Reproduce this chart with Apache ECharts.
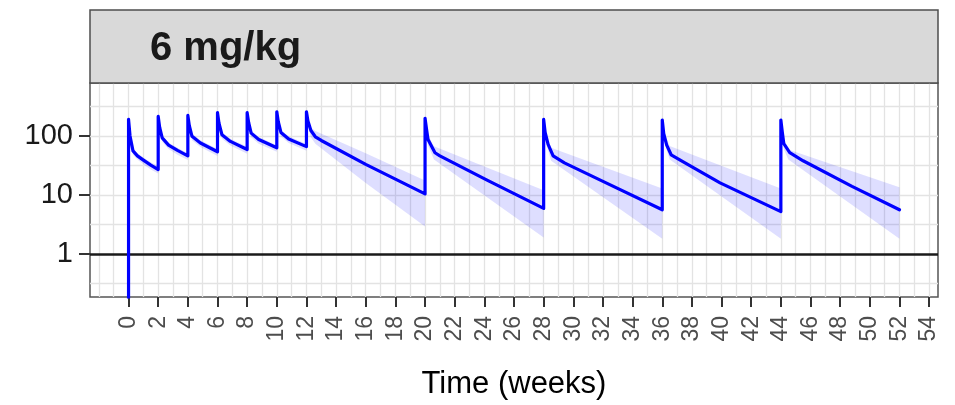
<!DOCTYPE html>
<html>
<head>
<meta charset="utf-8">
<script src="https://cdn.jsdelivr.net/npm/echarts@6/dist/echarts.min.js"></script>
<style>
  html, body { margin: 0; padding: 0; background: #fff; }
  #chart { width: 955px; height: 405px; }
</style>
</head>
<body>
<div id="chart"></div>
<script>
// Median concentration profile (dosing at weeks 0-12 every 2 weeks, then every 8 weeks)
const medianWeeks = [
  0, 0, 0.1, 0.3, 0.6, 1.0, 1.5, 2.0,
  2.0, 2.1, 2.27, 2.7, 3.3, 4.0,
  4.0, 4.1, 4.28, 4.85, 6.0,
  6.0, 6.1, 6.3, 6.87, 8.0,
  8.0, 8.1, 8.27, 8.78, 10.0,
  10.0, 10.1, 10.28, 10.8, 12.0,
  12.0, 12.1, 12.3, 12.6, 13.0, 16.0, 20.0,
  20.0, 20.1, 20.2, 20.67, 21.0, 24.15, 28.0,
  28.0, 28.1, 28.3, 28.64, 29.4, 32.0, 36.0,
  36.0, 36.1, 36.3, 36.6, 37.3, 39.9, 44.0,
  44.0, 44.1, 44.2, 44.6, 45.5, 48.8, 52.0
];
const medianConc = [
  0.01, 192, 100, 56, 46, 39, 32, 27,
  215, 140, 93, 70, 57, 46,
  224, 150, 99, 76, 54,
  249, 165, 105, 81, 59,
  249, 170, 112, 87, 63,
  258, 175, 115, 89, 66,
  258, 180, 124, 97, 84, 33, 10.4,
  200, 130, 87, 52, 46, 18, 5.9,
  192, 115, 72, 46, 35, 17, 5.6,
  187, 110, 70, 48, 38, 16, 5.2,
  187, 115, 74, 52, 38, 14, 5.6
];

// Prediction interval (lower / upper bounds)
const bandWeeks = [
  0, 0.1, 0.3, 0.6, 1.0, 1.5, 2.0,
  2.0, 2.1, 2.27, 2.7, 3.3, 4.0,
  4.0, 4.1, 4.28, 4.85, 6.0,
  6.0, 6.1, 6.3, 6.87, 8.0,
  8.0, 8.1, 8.27, 8.78, 10.0,
  10.0, 10.1, 10.28, 10.8, 12.0,
  12.0, 12.1, 12.3, 12.6, 16.0, 20.0,
  20.0, 20.1, 20.2, 20.6, 28.0,
  28.0, 28.1, 28.3, 28.5, 36.0,
  36.0, 36.1, 36.3, 36.5, 44.0,
  44.0, 44.1, 44.2, 44.5, 52.0
];
const bandLow = [
  165, 88, 48, 40, 33, 27, 23,
  185, 120, 80, 60, 48, 39,
  192, 128, 85, 65, 46,
  213, 140, 90, 69, 50,
  213, 145, 95, 74, 54,
  220, 150, 98, 76, 56,
  220, 150, 95, 74, 16, 2.9,
  170, 105, 70, 40, 1.9,
  160, 95, 58, 38, 1.8,
  158, 92, 58, 40, 1.8,
  158, 95, 60, 40, 1.8
];
const bandHigh = [
  215, 115, 62, 51, 43, 36, 31,
  240, 155, 102, 77, 63, 51,
  250, 168, 110, 85, 60,
  275, 183, 116, 90, 66,
  275, 188, 124, 96, 70,
  285, 194, 127, 99, 73,
  290, 200, 140, 122, 51, 17.6,
  225, 155, 105, 67, 12,
  215, 135, 90, 63, 12.8,
  215, 130, 90, 68, 12.8,
  215, 135, 90, 59, 13.5
];

const xTicks = [0, 2, 4, 6, 8, 10, 12, 14, 16, 18, 20, 22, 24, 26, 28, 30, 32, 34, 36, 38, 40, 42, 44, 46, 48, 50, 52, 54];
const xGridWeeks = [-2, -1, 0, 1, 2, 3, 4, 5, 6, 7, 8, 9, 10, 11, 12, 13, 14, 15, 16, 17, 18, 19, 20, 21, 22, 23, 24, 25, 26, 27,
  28, 29, 30, 31, 32, 33, 34, 35, 36, 37, 38, 39, 40, 41, 42, 43, 44, 45, 46, 47, 48, 49, 50, 51, 52, 53, 54];
const yTicks = [1, 10, 100];
const yGridValues = [0.316, 3.16, 10, 31.6, 100, 316];
const referenceLevel = 1;

const panelTitle = '6 mg/kg';
const xTitle = 'Time (weeks)';

const FONT = '"Liberation Sans", Arial, Helvetica, sans-serif';

const chart = echarts.init(document.getElementById('chart'), null, { renderer: 'canvas' });

const medianData = medianWeeks.map((w, i) => [w, medianConc[i]]);
const bandData = bandWeeks.map((w, i) => [w, bandLow[i], bandHigh[i]]);

chart.setOption({
  animation: false,
  backgroundColor: '#ffffff',
  grid: {
    left: 90, right: 17, top: 83, bottom: 103,
    show: true, borderColor: '#555555', borderWidth: 1.5, backgroundColor: 'transparent'
  },
  graphic: [
    {
      type: 'rect', z: 10,
      shape: { x: 90, y: 10, width: 848, height: 73 },
      style: { fill: '#d9d9d9', stroke: '#4d4d4d', lineWidth: 1.5 }
    },
    {
      type: 'text', z: 11, x: 150, y: 49,
      style: { text: panelTitle, font: 'bold 40px ' + FONT, fill: '#1a1a1a', verticalAlign: 'middle' }
    }
  ],
  xAxis: {
    type: 'value', min: -2.6, max: 54.6,
    axisLine: { show: false, onZero: false },
    splitLine: { show: false },
    axisTick: { show: true, customValues: xTicks, length: 10, lineStyle: { color: '#333333', width: 2 } },
    axisLabel: {
      customValues: xTicks, rotate: 90, margin: 19,
      fontFamily: FONT, fontSize: 23, color: '#4d4d4d'
    },
    name: xTitle, nameLocation: 'middle', nameGap: 72,
    nameTextStyle: { fontFamily: FONT, fontSize: 31, color: '#000000' }
  },
  yAxis: {
    type: 'log', logBase: 10, min: 0.185, max: 794,
    axisLine: { show: false, onZero: false },
    splitLine: { show: false },
    minorSplitLine: { show: false },
    axisTick: { show: true, customValues: yTicks, length: 11, lineStyle: { color: '#333333', width: 2 } },
    axisLabel: {
      customValues: yTicks, margin: 17,
      fontFamily: FONT, fontSize: 29, color: '#1a1a1a'
    }
  },
  series: [
    {
      // background grid
      type: 'line', data: [], z: 1, silent: true,
      markLine: {
        z: 1, silent: true, symbol: ['none', 'none'], animation: false,
        label: { show: false },
        lineStyle: { color: '#e3e3e3', width: 1.3, type: 'solid' },
        emphasis: { disabled: true },
        data: xGridWeeks.map(w => ({ xAxis: w })).concat(yGridValues.map(v => ({ yAxis: v })))
      }
    },
    {
      // prediction band
      type: 'custom', z: 2, silent: true, clip: true,
      data: bandData,
      encode: { x: 0, y: [1, 2] },
      renderItem: function (params, api) {
        if (params.dataIndex !== 0) return null;
        const upper = bandWeeks.map((w, i) => api.coord([w, bandHigh[i]]));
        const lower = bandWeeks.map((w, i) => api.coord([w, bandLow[i]])).reverse();
        return {
          type: 'polygon',
          shape: { points: upper.concat(lower) },
          style: { fill: 'rgba(0,0,255,0.13)' }
        };
      }
    },
    {
      // reference level
      type: 'line', data: [], z: 3, silent: true,
      markLine: {
        z: 3, silent: true, symbol: ['none', 'none'], animation: false,
        label: { show: false },
        lineStyle: { color: '#1a1a1a', width: 2.5, type: 'solid' },
        emphasis: { disabled: true },
        data: [{ yAxis: referenceLevel }]
      }
    },
    {
      // median profile
      type: 'line', z: 4, silent: true, clip: true,
      data: medianData,
      showSymbol: false, symbol: 'none',
      lineStyle: { color: '#0000ff', width: 3.2, join: 'round', cap: 'round' }
    }
  ]
});
</script>
</body>
</html>
